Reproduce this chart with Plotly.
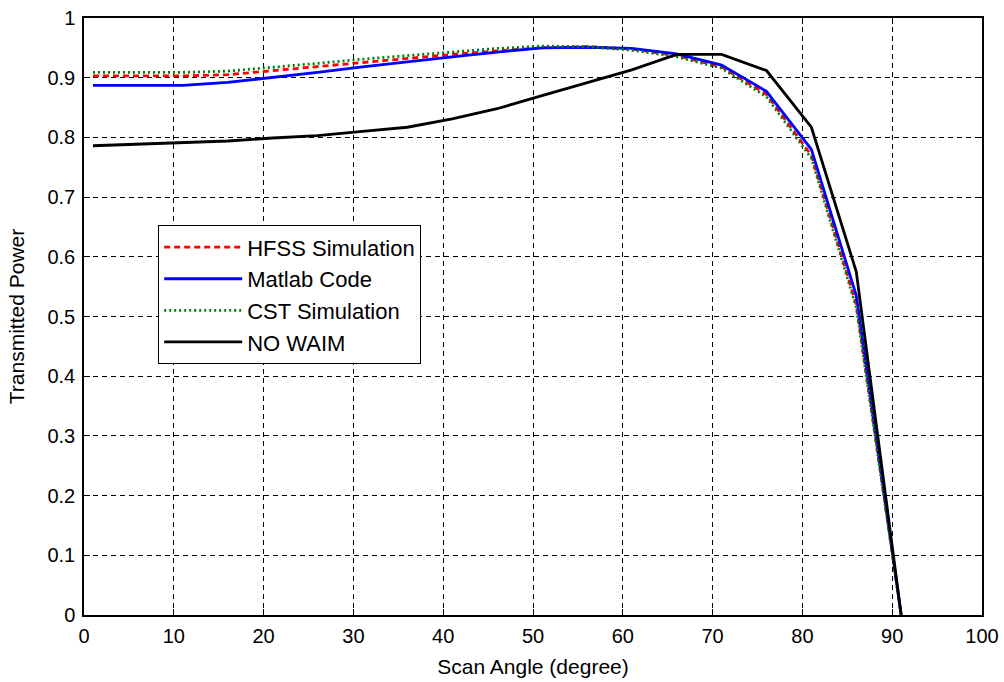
import plotly.graph_objects as go

angles = [1, 6, 11, 16, 21, 26, 31, 36, 41, 46, 51, 56, 61, 66, 71, 76, 81, 86, 91]
hfss = [0.903, 0.903, 0.903, 0.905, 0.912, 0.919, 0.926, 0.933, 0.939, 0.945, 0.950, 0.952, 0.948, 0.937, 0.918, 0.872, 0.770, 0.520, 0.0]
matlab = [0.887, 0.887, 0.887, 0.892, 0.900, 0.909, 0.918, 0.927, 0.935, 0.943, 0.950, 0.951, 0.949, 0.940, 0.921, 0.877, 0.780, 0.535, 0.0]
cst = [0.909, 0.909, 0.909, 0.911, 0.917, 0.924, 0.931, 0.937, 0.943, 0.949, 0.953, 0.952, 0.946, 0.935, 0.916, 0.868, 0.765, 0.515, 0.0]
nowaim = [0.786, 0.789, 0.791, 0.794, 0.799, 0.803, 0.810, 0.817, 0.831, 0.848, 0.870, 0.892, 0.913, 0.939, 0.939, 0.912, 0.817, 0.575, 0.0]

x_ticks = list(range(0, 101, 10))
y_ticks = [round(i * 0.1, 1) for i in range(11)]
y_tick_text = ["0", "0.1", "0.2", "0.3", "0.4", "0.5", "0.6", "0.7", "0.8", "0.9", "1"]

FONT = "Liberation Sans, Arial"

fig = go.Figure()
fig.add_trace(go.Scatter(x=angles, y=hfss, mode="lines", name="HFSS Simulation",
                         line=dict(color="#ff0000", width=2.8, dash="6px,4px")))
fig.add_trace(go.Scatter(x=angles, y=matlab, mode="lines", name="Matlab Code",
                         line=dict(color="#0000ff", width=2.8)))
fig.add_trace(go.Scatter(x=angles, y=cst, mode="lines", name="CST Simulation",
                         line=dict(color="#008000", width=2.8, dash="2px,3px")))
fig.add_trace(go.Scatter(x=angles, y=nowaim, mode="lines", name="NO WAIM",
                         line=dict(color="#000000", width=2.8)))

axis_common = dict(
    showline=True, linecolor="black", linewidth=1.5, mirror="ticks",
    ticks="inside", ticklen=6, tickcolor="black",
    showgrid=True, gridcolor="black", griddash="5px,4px", gridwidth=1.2,
    zeroline=False, automargin=False, ticklabeloverflow="allow",
    tickfont=dict(family=FONT, size=20, color="black"),
    title_font=dict(family=FONT, size=21, color="black"),
)

fig.update_xaxes(range=[0, 100], tickvals=x_ticks, title_text="Scan Angle (degree)",
                 title_standoff=14, ticklabelstandoff=2, **axis_common)
fig.update_yaxes(range=[0, 1], tickvals=y_ticks, ticktext=y_tick_text,
                 title_text="Transmitted Power", title_standoff=17,
                 ticklabelstandoff=3, **axis_common)

fig.update_layout(
    width=1004, height=682,
    margin=dict(l=84, r=22, t=18, b=67),
    paper_bgcolor="white", plot_bgcolor="white",
    font=dict(family=FONT, size=20, color="black"),
    legend=dict(
        x=0.0824, y=0.653, xanchor="left", yanchor="top",
        bgcolor="white", bordercolor="black", borderwidth=1.2,
        font=dict(family=FONT, size=22, color="black"),
        itemwidth=78,
    ),
    showlegend=True,
)

fig.write_html("out.html", config={"displayModeBar": False},
               post_script="document.body.style.margin='0';")
